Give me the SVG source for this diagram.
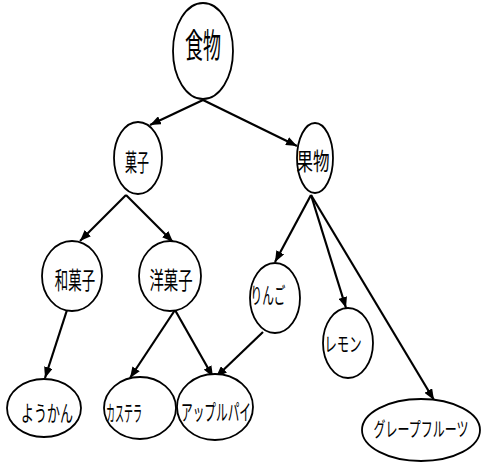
<svg xmlns="http://www.w3.org/2000/svg" width="483" height="470" viewBox="0 0 483 470">
<style>
.n ellipse{fill:#fff;stroke:#000;stroke-width:1.8}
.n text{font-family:"Noto Sans CJK JP","Noto Sans",sans-serif;text-anchor:middle;fill:#000}
#edges line{stroke:#000;stroke-width:2.2;marker-end:url(#ah)}
</style>
<defs>
<marker id="ah" viewBox="0 0 10 8" refX="10" refY="4" markerWidth="5" markerHeight="4" orient="auto" markerUnits="strokeWidth">
<path d="M0,0 L10,4 L0,8 z" fill="#000"/>
</marker>
</defs>
<rect width="483" height="470" fill="#fff"/>
<g id="edges">
<line x1="203" y1="100" x2="150" y2="125"/>
<line x1="203" y1="100" x2="297" y2="146"/>
<line x1="126" y1="195" x2="80" y2="241"/>
<line x1="126" y1="195" x2="173" y2="242"/>
<line x1="311" y1="195" x2="275" y2="262"/>
<line x1="311" y1="195" x2="346" y2="308"/>
<line x1="311" y1="195" x2="434" y2="400"/>
<line x1="67" y1="310" x2="45" y2="378"/>
<line x1="175" y1="310" x2="130" y2="378"/>
<line x1="175" y1="310" x2="213" y2="377"/>
<line x1="263" y1="332" x2="216" y2="377"/>
</g>
<g id="n_food" class="n"><ellipse cx="203" cy="51" rx="30" ry="48"/><text transform="translate(203,58) scale(0.53,1)" font-size="34">食物</text></g>
<g id="n_kashi" class="n"><ellipse cx="138" cy="158" rx="24" ry="36"/><text transform="translate(137,171) scale(0.5,1)" font-size="24">菓子</text></g>
<g id="n_kudamono" class="n"><ellipse cx="315" cy="158" rx="18" ry="35"/><text transform="translate(313,170) scale(0.69,1)" font-size="24">果物</text></g>
<g id="n_wagashi" class="n"><ellipse cx="72" cy="276" rx="30" ry="35"/><text transform="translate(75,289) scale(0.56,1)" font-size="24">和菓子</text></g>
<g id="n_yougashi" class="n"><ellipse cx="170" cy="276" rx="31" ry="35"/><text transform="translate(171,289) scale(0.6,1)" font-size="24">洋菓子</text></g>
<g id="n_ringo" class="n"><ellipse cx="275" cy="298" rx="25" ry="35"/><text transform="translate(268,303) scale(0.53,1)" font-size="22">りんご</text></g>
<g id="n_lemon" class="n"><ellipse cx="348" cy="343" rx="25" ry="35"/><text transform="translate(343,352) scale(0.62,1)" font-size="20">レモン</text></g>
<g id="n_youkan" class="n"><ellipse cx="44" cy="408" rx="37" ry="29"/><text transform="translate(47,421) scale(0.59,1)" font-size="22">ようかん</text></g>
<g id="n_castella" class="n"><ellipse cx="140" cy="408" rx="36" ry="31"/><text transform="translate(124,421) scale(0.41,1)" font-size="22">カステラ</text></g>
<g id="n_applepie" class="n"><ellipse cx="215" cy="407" rx="38" ry="33"/><text transform="translate(216,420) scale(0.53,1)" font-size="22">アップルパイ</text></g>
<g id="n_grapefruit" class="n"><ellipse cx="421" cy="430" rx="59" ry="31"/><text transform="translate(421,437) scale(0.6,1)" font-size="20">グレープフルーツ</text></g>
</svg>
